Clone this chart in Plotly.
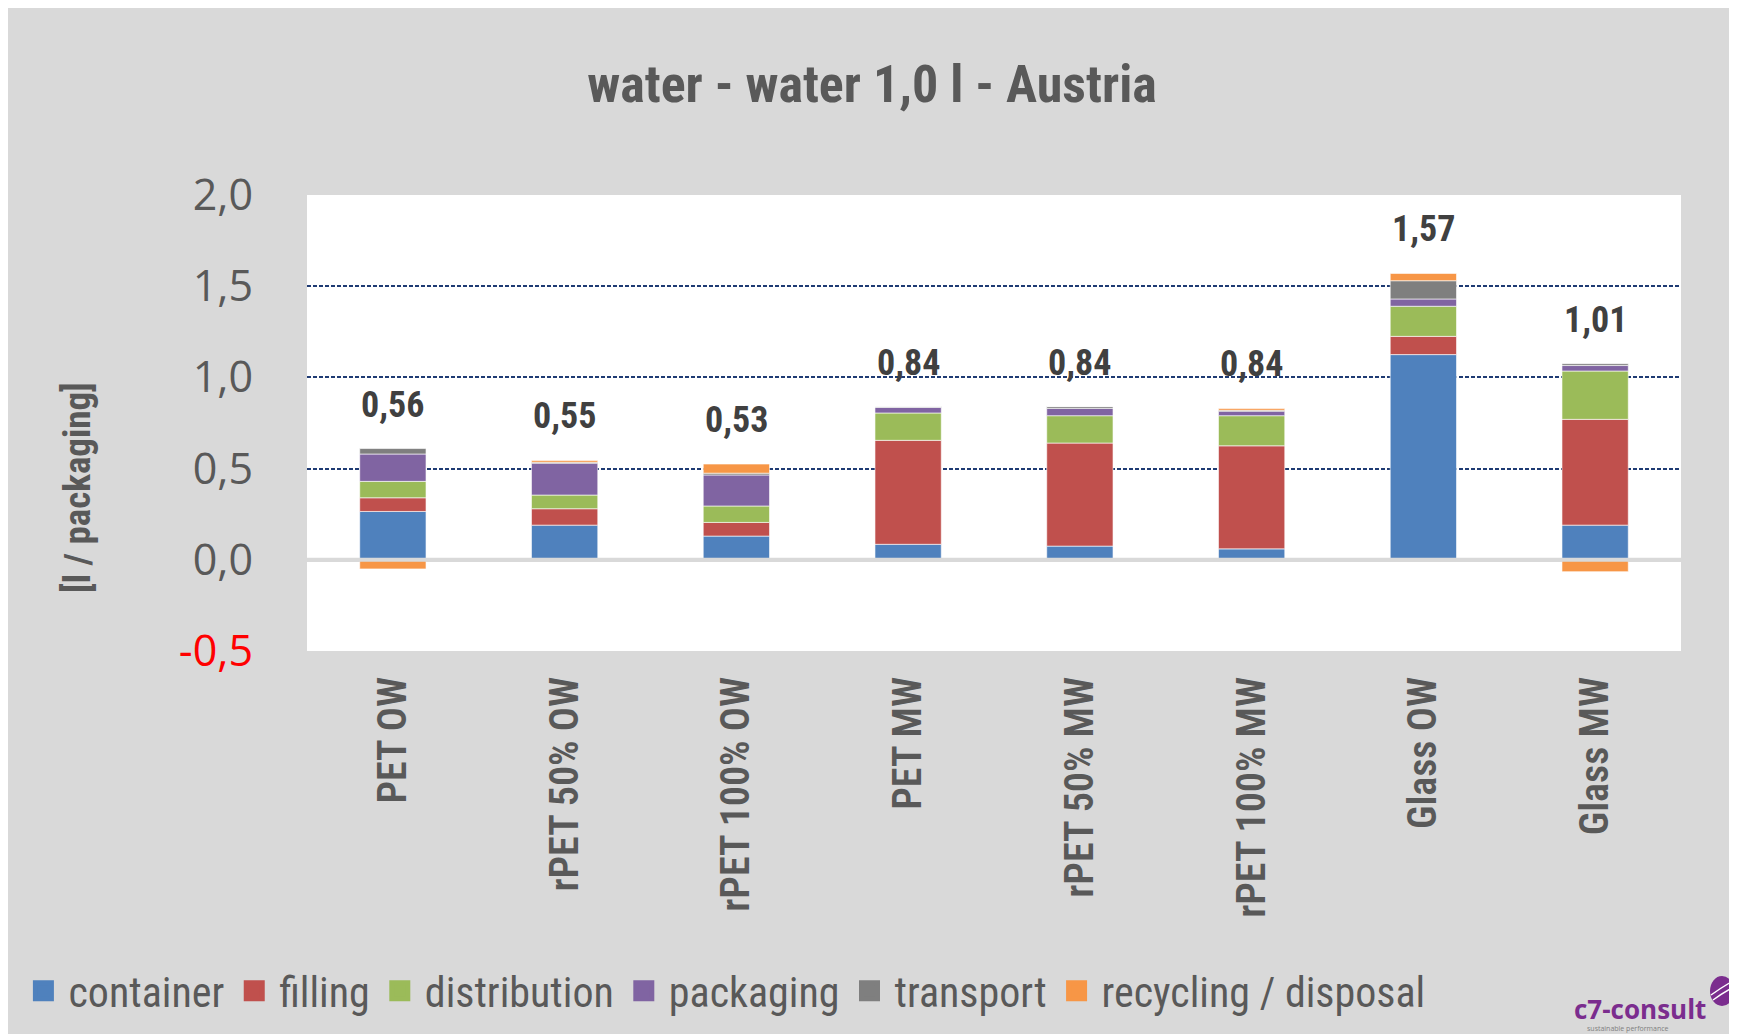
import plotly.graph_objects as go
import numpy as np

# ---------------- data ----------------
categories = ["PET OW", "rPET 50% OW", "rPET 100% OW", "PET MW",
              "rPET 50% MW", "rPET 100% MW", "Glass OW", "Glass MW"]
container = [0.265, 0.19, 0.13, 0.085, 0.075, 0.06, 1.125, 0.19]
filling = [0.075, 0.09, 0.075, 0.57, 0.565, 0.565, 0.10, 0.58]
distribution = [0.09, 0.075, 0.09, 0.15, 0.15, 0.165, 0.165, 0.265]
packaging = [0.15, 0.175, 0.17, 0.03, 0.04, 0.025, 0.04, 0.03]
transport = [0.03, 0.005, 0.01, 0.005, 0.01, 0.005, 0.10, 0.01]
recycling = [-0.05, 0.01, 0.05, 0.0, 0.0, 0.01, 0.04, -0.065]
total_labels = ["0,56", "0,55", "0,53", "0,84", "0,84", "0,84", "1,57", "1,01"]

series_names = ["container", "filling", "distribution", "packaging",
                "transport", "recycling / disposal"]
series_values = [container, filling, distribution, packaging, transport, recycling]
series_colors = ["#4F81BD", "#C0504D", "#9BBB59", "#8064A2", "#7F7F7F", "#F79646"]

y_tickvals = [-0.5, 0.0, 0.5, 1.0, 1.5, 2.0]
y_ticktext = ["<span style='color:#FF0000'>-0,5</span>", "0,0", "0,5", "1,0", "1,5", "2,0"]

# ---------------- layout geometry ----------------
OFF = 8                       # page body margin
W, H = 1737 - OFF, 1034 - OFF
L, R, T, B = 307 - OFF, 56, 195 - OFF, 383
PW, PH = W - L - R, H - T - B

def px(x):          # screen x -> paper x
    return (x - OFF - L) / PW

def py(y):          # screen y -> paper y
    return (H - B - (y - OFF)) / PH

NARROW = "Roboto Condensed, DejaVu Sans Condensed, sans-serif"
GRAY = "#595959"
PURPLE = "#7B2D8E"

fig = go.Figure()

for name, vals, col in zip(series_names, series_values, series_colors):
    fig.add_trace(go.Bar(
        x=categories, y=vals, name=name, showlegend=False,
        marker=dict(color=col, line=dict(color="rgba(255,255,255,0.6)", width=1)),
    ))
    # legend proxy (bigger square swatch)
    fig.add_trace(go.Scatter(
        x=[None], y=[None], mode="markers", name=name,
        marker=dict(symbol="square", size=16, color=col, line=dict(color=col, width=5)),
    ))

# total labels above the positive stack
pos_top = np.sum(np.clip(np.array(series_values), 0, None), axis=0)
for cat, top, lab in zip(categories, pos_top, total_labels):
    fig.add_annotation(x=cat, y=top, text=lab, showarrow=False, yanchor="middle",
                       yshift=44, font=dict(family=NARROW, size=36, color="#404040",
                                            weight="bold"))

# y-axis title
fig.add_annotation(xref="paper", yref="paper", x=px(77), y=py(487), text="[l / packaging]",
                   textangle=-90, showarrow=False, xanchor="center", yanchor="middle",
                   font=dict(family=NARROW, size=37, color=GRAY, weight="bold"))

# logo
fig.add_annotation(xref="paper", yref="paper", x=px(1640), y=py(1009), text="c7-consult",
                   showarrow=False, xanchor="center", yanchor="middle",
                   font=dict(family="Open Sans", size=26, color=PURPLE, weight="bold"))
fig.add_annotation(xref="paper", yref="paper", x=px(1628), y=py(1028),
                   text="sustainable performance", showarrow=False,
                   xanchor="center", yanchor="middle",
                   font=dict(family="Open Sans", size=7, color="#808080"))
fig.add_shape(type="circle", xref="paper", yref="paper", xsizemode="pixel", ysizemode="pixel",
              xanchor=px(1722), yanchor=py(991), x0=-12, x1=12, y0=-15, y1=15,
              fillcolor=PURPLE, line=dict(width=0), layer="above")
fig.add_shape(type="path", xref="paper", yref="paper", xsizemode="pixel", ysizemode="pixel",
              xanchor=px(1722), yanchor=py(991),
              path="M -11 -4 Q 0 4 11 10 M -9 -9 Q 2 -1 12 4",
              line=dict(color="white", width=1.5), layer="above")

# zero line on top of bars
fig.add_shape(type="line", xref="paper", yref="y", x0=0, x1=1, y0=0, y1=0,
              line=dict(color="#D9D9D9", width=4), layer="above")

fig.update_layout(
    width=W, height=H,
    margin=dict(l=L, r=R, t=T, b=B, pad=0, autoexpand=False),
    paper_bgcolor="#D9D9D9", plot_bgcolor="white",
    barmode="relative", bargap=0.614,
    title=dict(text="<b>water - water 1,0 l - Austria</b>", xref="container",
               x=(872 - OFF) / W, y=1 - (84 - OFF) / H, xanchor="center", yanchor="middle",
               font=dict(family=NARROW, size=52, color=GRAY)),
    showlegend=True,
    legend=dict(orientation="h", xref="paper", yref="paper",
                x=px(18.4), y=py(991),
                xanchor="left", yanchor="middle", bgcolor="rgba(0,0,0,0)",
                font=dict(family=NARROW, size=42, color=GRAY), itemwidth=40,
                traceorder="normal"),
    xaxis=dict(type="category", tickangle=-90, showgrid=False, showline=False, ticks="",
               ticklabelstandoff=17,
               tickfont=dict(family=NARROW, size=40, color=GRAY, weight=600)),
    yaxis=dict(range=[-0.5, 2.0], tickvals=y_tickvals, ticktext=y_ticktext,
               showgrid=True, gridcolor="#1F3B73", gridwidth=1.5, griddash="4px,2px",
               zeroline=True, zerolinecolor="#D9D9D9", zerolinewidth=4,
               showline=False, ticks="", ticklabelstandoff=53,
               tickfont=dict(family="Open Sans", size=43, color=GRAY)),
)

fig.write_html("out.html")
